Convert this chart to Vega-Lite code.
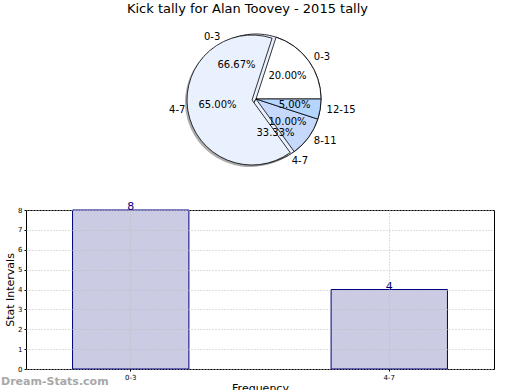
{
  "$schema": "https://vega.github.io/schema/vega-lite/v6.json",
  "padding": {"left": 0, "top": 3, "right": 0, "bottom": 0},
  "background": "white",
  "title": {"text": "Kick tally for Alan Toovey - 2015 tally", "fontSize": 13, "font": "DejaVu Sans", "fontWeight": "normal", "color": "#000", "anchor": "middle", "offset": 4},
  "config": {"font": "DejaVu Sans", "view": {"stroke": null}},
  "datasets": {
    "kicks": [
      {"range": "0-3", "count": 8},
      {"range": "4-7", "count": 4}
    ],
    "pies": [
      {"pie": "A", "range": "0-3", "n": 8},
      {"pie": "A", "range": "4-7", "n": 4},
      {"pie": "B", "range": "0-3", "n": 20},
      {"pie": "B", "range": "4-7", "n": 65},
      {"pie": "B", "range": "8-11", "n": 10},
      {"pie": "B", "range": "12-15", "n": 5}
    ]
  },
  "bounds": "flush",
  "spacing": 32,
  "vconcat": [
    {
      "width": 460,
      "height": 158,
      "view": {"stroke": null},
      "data": {"name": "pies"},
      "transform": [
        {"joinaggregate": [{"op": "sum", "field": "n", "as": "total"}], "groupby": ["pie"]},
        {"calculate": "datum.n / datum.total", "as": "frac"},
        {"stack": "frac", "groupby": ["pie"], "as": ["t0", "t1"]},
        {"calculate": "(datum.t0 + datum.t1) / 2", "as": "mid"}
      ],
      "layer": [
        {
          "transform": [{"filter": "datum.pie === 'A'"}],
          "mark": {"type": "arc", "radius": 65, "fill": "#777", "opacity": 0.6, "xOffset": -2, "yOffset": 2},
          "encoding": {
            "theta": {"field": "t0", "type": "quantitative", "scale": {"domain": [0, 1], "range": [1.5708, -4.7124]}},
            "theta2": {"field": "t1"}
          }
        },
        {
          "transform": [{"filter": "datum.pie === 'A'"}],
          "mark": {"type": "arc", "radius": 65, "fill": "#eaf1fe", "stroke": "#000", "strokeWidth": 0.8},
          "encoding": {
            "theta": {"field": "t0", "type": "quantitative", "scale": {"domain": [0, 1], "range": [1.5708, -4.7124]}},
            "theta2": {"field": "t1"}
          }
        },
        {
          "transform": [{"filter": "datum.pie === 'B' && datum.range === '4-7'"}],
          "mark": {"type": "arc", "radius": 65, "fill": "#777", "opacity": 0.6, "xOffset": -6, "yOffset": 3},
          "encoding": {
            "theta": {"field": "t0", "type": "quantitative", "scale": {"domain": [0, 1], "range": [1.5708, -4.7124]}},
            "theta2": {"field": "t1"}
          }
        },
        {
          "transform": [{"filter": "datum.pie === 'B' && datum.range !== '4-7'"}],
          "mark": {"type": "arc", "radius": 65, "stroke": "#000", "strokeWidth": 0.8},
          "encoding": {
            "theta": {"field": "t0", "type": "quantitative", "scale": {"domain": [0, 1], "range": [1.5708, -4.7124]}},
            "theta2": {"field": "t1"},
            "fill": {"field": "range", "type": "nominal", "scale": {"domain": ["0-3", "4-7", "8-11", "12-15"], "range": ["#ffffff", "#eaf1fe", "#c6d9fd", "#b3d5fe"]}, "legend": null}
          }
        },
        {
          "transform": [{"filter": "datum.pie === 'B' && datum.range === '4-7'"}],
          "mark": {"type": "arc", "radius": 65, "stroke": "#000", "strokeWidth": 0.8, "xOffset": -4, "yOffset": 1},
          "encoding": {
            "theta": {"field": "t0", "type": "quantitative", "scale": {"domain": [0, 1], "range": [1.5708, -4.7124]}},
            "theta2": {"field": "t1"},
            "fill": {"field": "range", "type": "nominal", "scale": {"domain": ["0-3", "4-7", "8-11", "12-15"], "range": ["#ffffff", "#eaf1fe", "#c6d9fd", "#b3d5fe"]}, "legend": null}
          }
        },
        {
          "mark": {"type": "text", "radius": 39, "fontSize": 10, "color": "#000", "baseline": "middle", "align": "center"},
          "encoding": {
            "theta": {"field": "mid", "type": "quantitative", "scale": {"domain": [0, 1], "range": [1.5708, -4.7124]}},
            "text": {"field": "frac", "type": "quantitative", "format": ".2%"}
          }
        },
        {
          "transform": [{"filter": "cos(2 * PI * datum.mid) >= 0"}],
          "mark": {"type": "text", "radius": 71.5, "fontSize": 10, "color": "#000", "baseline": "middle", "align": "left"},
          "encoding": {
            "theta": {"field": "mid", "type": "quantitative", "scale": {"domain": [0, 1], "range": [1.5708, -4.7124]}},
            "text": {"field": "range", "type": "nominal"}
          }
        },
        {
          "transform": [{"filter": "cos(2 * PI * datum.mid) < 0"}],
          "mark": {"type": "text", "radius": 71.5, "fontSize": 10, "color": "#000", "baseline": "middle", "align": "right"},
          "encoding": {
            "theta": {"field": "mid", "type": "quantitative", "scale": {"domain": [0, 1], "range": [1.5708, -4.7124]}},
            "text": {"field": "range", "type": "nominal"}
          }
        }
      ]
    },
    {
      "width": 468,
      "height": 159,
      "view": {"stroke": "#000", "strokeWidth": 1},
      "data": {"name": "kicks"},
      "title": {"text": "Dream-Stats.com", "orient": "bottom", "anchor": "start", "frame": "group", "fontSize": 11, "fontWeight": "bold", "color": "#a8a8a8", "dx": -25, "offset": -17},
      "encoding": {
        "x": {
          "field": "range", "type": "nominal", "sort": null,
          "scale": {"paddingInner": 0.55, "paddingOuter": 0.18},
          "axis": {"title": "Frequency", "titleFontSize": 11, "titleFontWeight": "normal", "titleColor": "#000", "titlePadding": 2, "labelAngle": 0, "labelFontSize": 7, "labelColor": "#000", "labelPadding": 2, "grid": true, "gridDash": [1, 2], "gridColor": "#bdbdbd", "bandPosition": 0.5, "tickColor": "#000", "tickSize": 2, "domain": false, "zindex": 1}
        },
        "y": {
          "field": "count", "type": "quantitative",
          "scale": {"domain": [0, 8], "nice": false},
          "axis": {"title": "Stat Intervals", "values": [0, 1, 2, 3, 4, 5, 6, 7, 8], "titleFontSize": 11, "titleFontWeight": "normal", "titleColor": "#000", "titlePadding": 2, "labelFontSize": 7, "labelColor": "#000", "labelPadding": 2, "grid": true, "gridDash": [1, 2], "gridColor": "#bdbdbd", "tickColor": "#000", "tickSize": 2, "domain": false, "zindex": 1}
        }
      },
      "layer": [
        {"mark": {"type": "bar", "fill": "#cbcbe3", "stroke": "#000080", "strokeWidth": 1}},
        {"mark": {"type": "text", "baseline": "bottom", "dy": 2, "color": "#000080", "fontSize": 11}, "encoding": {"text": {"field": "count", "type": "quantitative"}}}
      ]
    }
  ]
}
